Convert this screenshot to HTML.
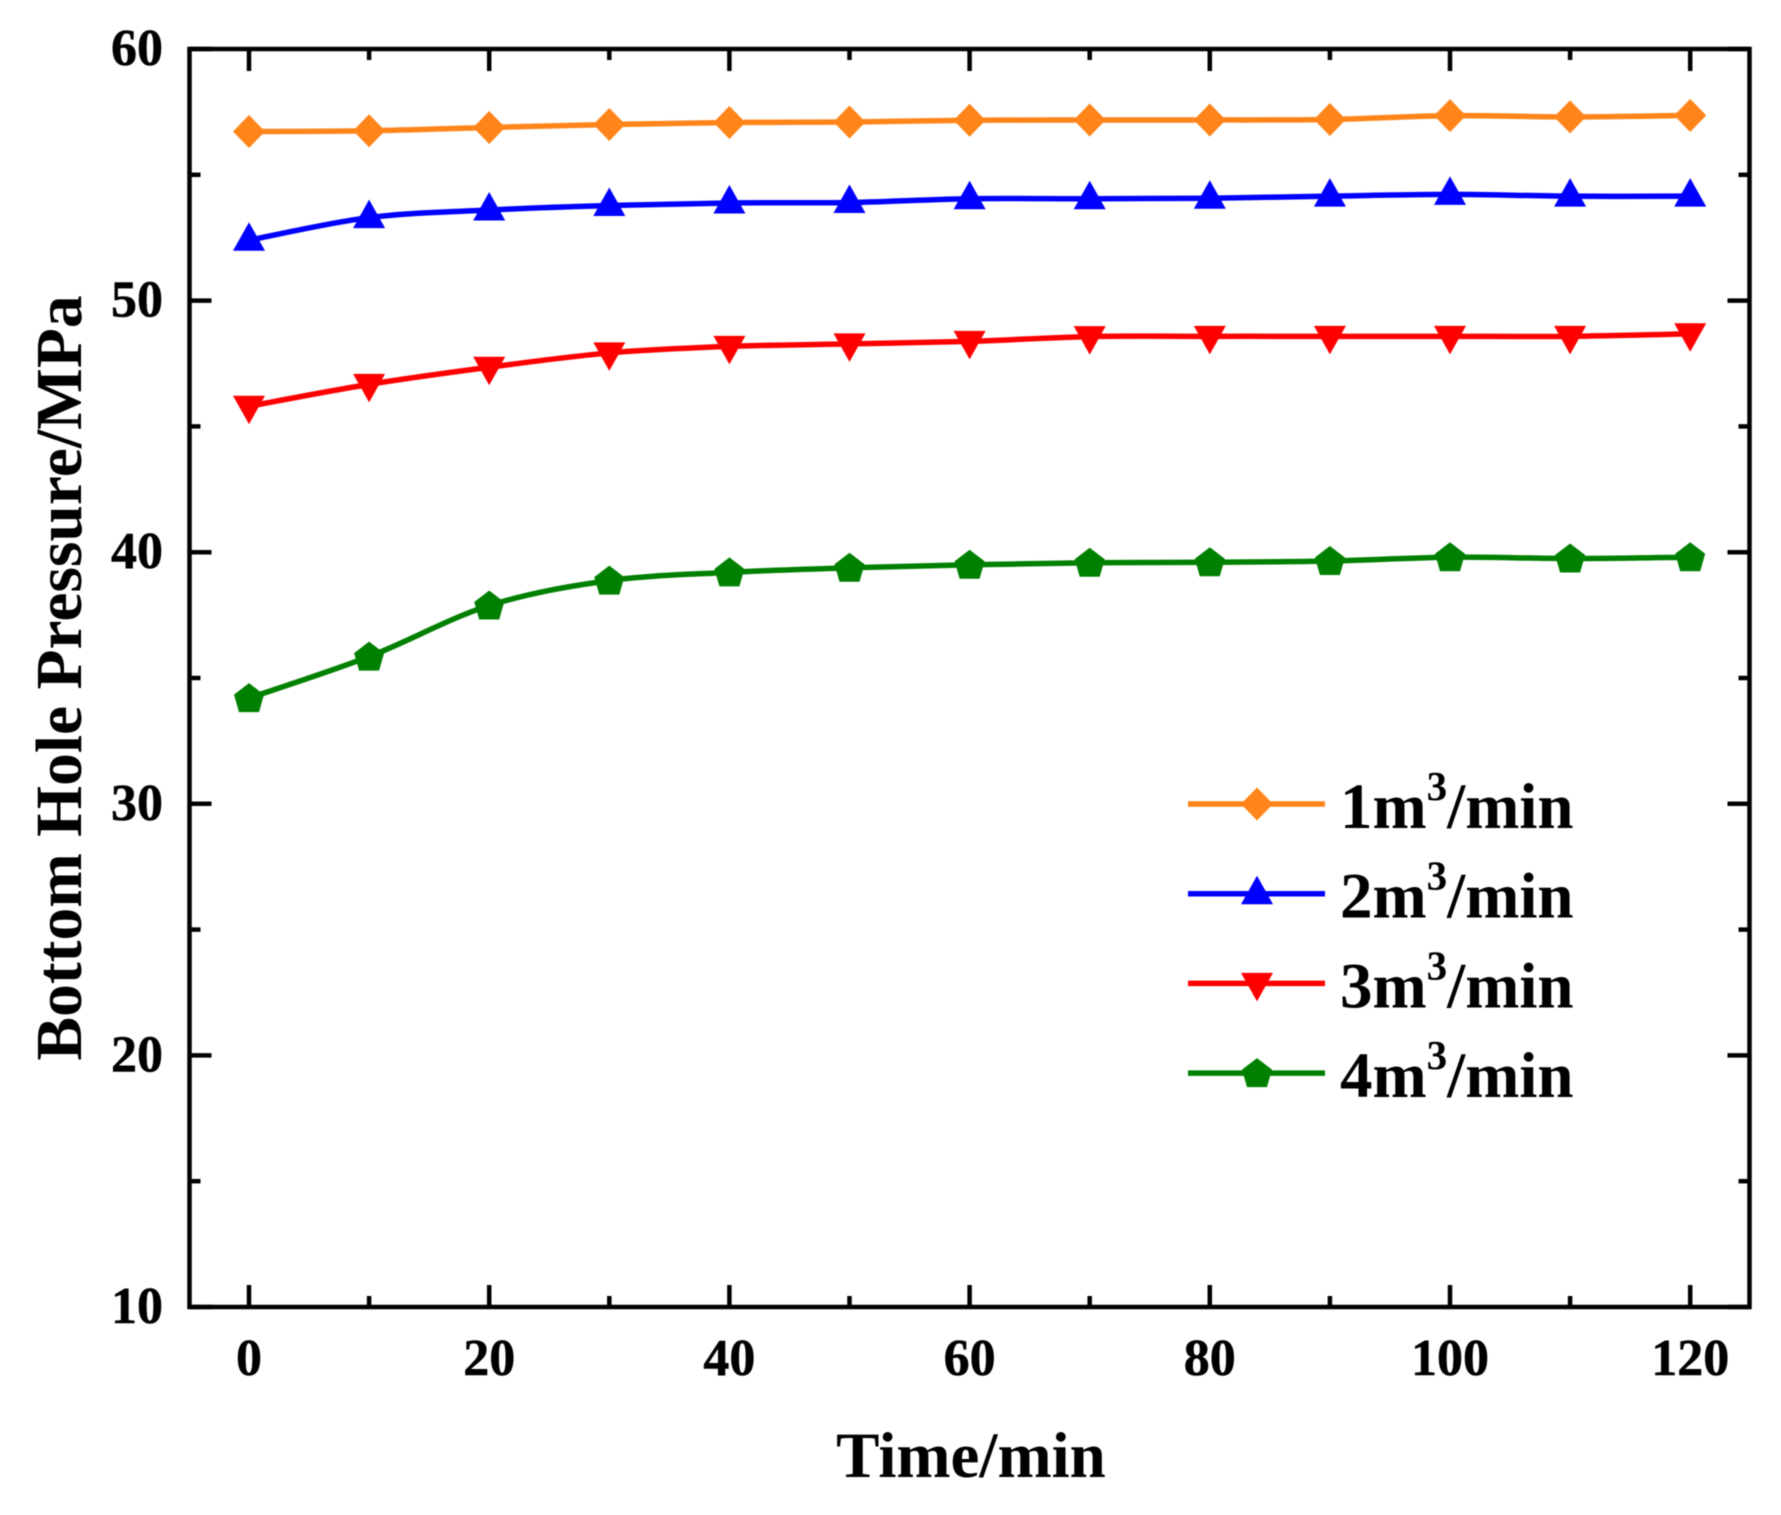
<!DOCTYPE html>
<html lang="en">
<head>
<meta charset="utf-8">
<title>Bottom Hole Pressure vs Time</title>
<style>
html,body{margin:0;padding:0;background:#fff;width:1781px;height:1515px;overflow:hidden}
svg{display:block;filter:blur(0.6px)}
text{font-family:"Liberation Serif",serif;font-weight:bold;fill:#000}
</style>
</head>
<body>
<svg id="chart" xmlns="http://www.w3.org/2000/svg" width="1781" height="1515" viewBox="0 0 1781 1515">
  <rect x="0" y="0" width="1781" height="1515" fill="#fff"/>
  <g id="ticks"></g>
  <g id="series"></g>
  <rect x="189.5" y="49" width="1560" height="1258" fill="none" stroke="#000" stroke-width="4.5"/>
  <g id="tick-labels"></g>
  <text x="971" y="1477" font-size="65" text-anchor="middle">Time/min</text>
  <text transform="translate(81,678) rotate(-90)" font-size="65.5" text-anchor="middle">Bottom Hole Pressure/MPa</text>
  <g id="legend"></g>
</svg>
<script>
const timeMinutes = [0,10,20,30,40,50,60,70,80,90,100,110,120];
const flow1Values = [56.72,56.75,56.88,57.0,57.08,57.1,57.17,57.18,57.18,57.2,57.35,57.3,57.36];
const flow2Values = [52.4,53.3,53.6,53.78,53.88,53.9,54.05,54.05,54.07,54.15,54.22,54.15,54.15];
const flow3Values = [45.8,46.67,47.35,47.92,48.18,48.28,48.38,48.57,48.58,48.58,48.58,48.58,48.68];
const flow4Values = [34.2,35.85,37.88,38.87,39.2,39.38,39.5,39.58,39.6,39.65,39.8,39.75,39.8];
const xTickLabels = [0,20,40,60,80,100,120];
const xMinorTicks = [10,30,50,70,90,110];
const yTickLabels = [10,20,30,40,50,60];
const yMinorTicks = [15,25,35,45,55];
const seriesPrefixes = ['1','2','3','4'];

const NS = 'http://www.w3.org/2000/svg';
const xScale = v => 249 + (v - 0) * 12.01;
const yScale = v => 1307 - (v - 10) * 25.16;

function make(parent, tag, attrs, text) {
  const el = document.createElementNS(NS, tag);
  for (const k in attrs) el.setAttribute(k, attrs[k]);
  if (text !== undefined) el.textContent = text;
  parent.appendChild(el);
  return el;
}

function markerPoints(shape, cx, cy) {
  if (shape === 'diamond') return [[cx,cy-16.5],[cx+16,cy],[cx,cy+16.5],[cx-16,cy]];
  if (shape === 'up') return [[cx,cy-18],[cx+16,cy+10.5],[cx-16,cy+10.5]];
  if (shape === 'down') return [[cx,cy+18],[cx+16,cy-10.5],[cx-16,cy-10.5]];
  return [[cx,cy-15],[cx+15,cy-3.5],[cx+10,cy+14],[cx-10,cy+14],[cx-15,cy-3.5]];
}

function smoothPath(pts) {
  let d = 'M' + pts[0][0] + ' ' + pts[0][1];
  for (let i = 0; i < pts.length - 1; i++) {
    const p0 = pts[Math.max(i - 1, 0)], p1 = pts[i], p2 = pts[i + 1], p3 = pts[Math.min(i + 2, pts.length - 1)];
    const c1x = p1[0] + (p2[0] - p0[0]) / 6, c1y = p1[1] + (p2[1] - p0[1]) / 6;
    const c2x = p2[0] - (p3[0] - p1[0]) / 6, c2y = p2[1] - (p3[1] - p1[1]) / 6;
    d += ' C' + c1x + ' ' + c1y + ' ' + c2x + ' ' + c2y + ' ' + p2[0] + ' ' + p2[1];
  }
  return d;
}

const tickGroup = document.getElementById('ticks');
const labelGroup = document.getElementById('tick-labels');

function xTick(v, len) {
  const x = xScale(v);
  const bottom = make(tickGroup, 'line', {x1:x, x2:x, y1:1307, y2:1307-len, stroke:'#000', 'stroke-width':4.5});
  
  
  const top = make(tickGroup, 'line', {x1:x, x2:x, y1:49, y2:49+len, stroke:'#000', 'stroke-width':4.5});
  
  
}
function yTick(v, len) {
  const y = yScale(v);
  const left = make(tickGroup, 'line', {x1:189.5, x2:189.5+len, y1:y, y2:y, stroke:'#000', 'stroke-width':4.5});
  
  
  const right = make(tickGroup, 'line', {x1:1749.5, x2:1749.5-len, y1:y, y2:y, stroke:'#000', 'stroke-width':4.5});
  
  
}

xTickLabels.forEach(v => {
  xTick(v, 22);
  const t = make(labelGroup, 'text', {x:xScale(v), y:1375, 'font-size':52, 'text-anchor':'middle', stroke:'#000', 'stroke-width':0.5});
  t.textContent = v;
  
  
});
xMinorTicks.forEach(v => xTick(v, 11));
yTickLabels.forEach(v => {
  yTick(v, 22);
  const t = make(labelGroup, 'text', {x:163, y:yScale(v)+16, 'font-size':52, 'text-anchor':'end', stroke:'#000', 'stroke-width':0.5});
  t.textContent = v;
  
  
});
yMinorTicks.forEach(v => yTick(v, 11));

const seriesGroup = document.getElementById('series');
const legendGroup = document.getElementById('legend');

function drawSeries(values, color, shape, seriesName) {
  const pts = values.map((v, i) => [xScale(timeMinutes[i]), yScale(v)]);
  const path = make(seriesGroup, 'path', {d:smoothPath(pts), fill:'none', stroke:color, 'stroke-width':5.5});
  
  
  pts.forEach(p => {
    const m = make(seriesGroup, 'polygon', {points:markerPoints(shape, p[0], p[1]).join(' '), fill:color});
    
    
  });
}

function drawLegendEntry(index, color, shape, seriesName) {
  const cy = 804 + index * 89.7;
  const line = make(legendGroup, 'line', {x1:1188, x2:1325, y1:cy, y2:cy, stroke:color, 'stroke-width':5.5});
  
  
  const m = make(legendGroup, 'polygon', {points:markerPoints(shape, 1257, cy).join(' '), fill:color});
  
  
  const t = make(legendGroup, 'text', {x:1340, y:cy+24, 'font-size':65});
  
  
  make(t, 'tspan', {}, seriesPrefixes[index] + 'm');
  make(t, 'tspan', {dy:-28, 'font-size':41}, '3');
  make(t, 'tspan', {dy:28}, '/min');
}

drawSeries(flow1Values, '#ff8419', 'diamond', 'flow-1');
drawSeries(flow2Values, '#0000ff', 'up', 'flow-2');
drawSeries(flow3Values, '#ff0000', 'down', 'flow-3');
drawSeries(flow4Values, '#008000', 'pentagon', 'flow-4');

drawLegendEntry(0, '#ff8419', 'diamond', 'flow-1');
drawLegendEntry(1, '#0000ff', 'up', 'flow-2');
drawLegendEntry(2, '#ff0000', 'down', 'flow-3');
drawLegendEntry(3, '#008000', 'pentagon', 'flow-4');
</script>
</body>
</html>
